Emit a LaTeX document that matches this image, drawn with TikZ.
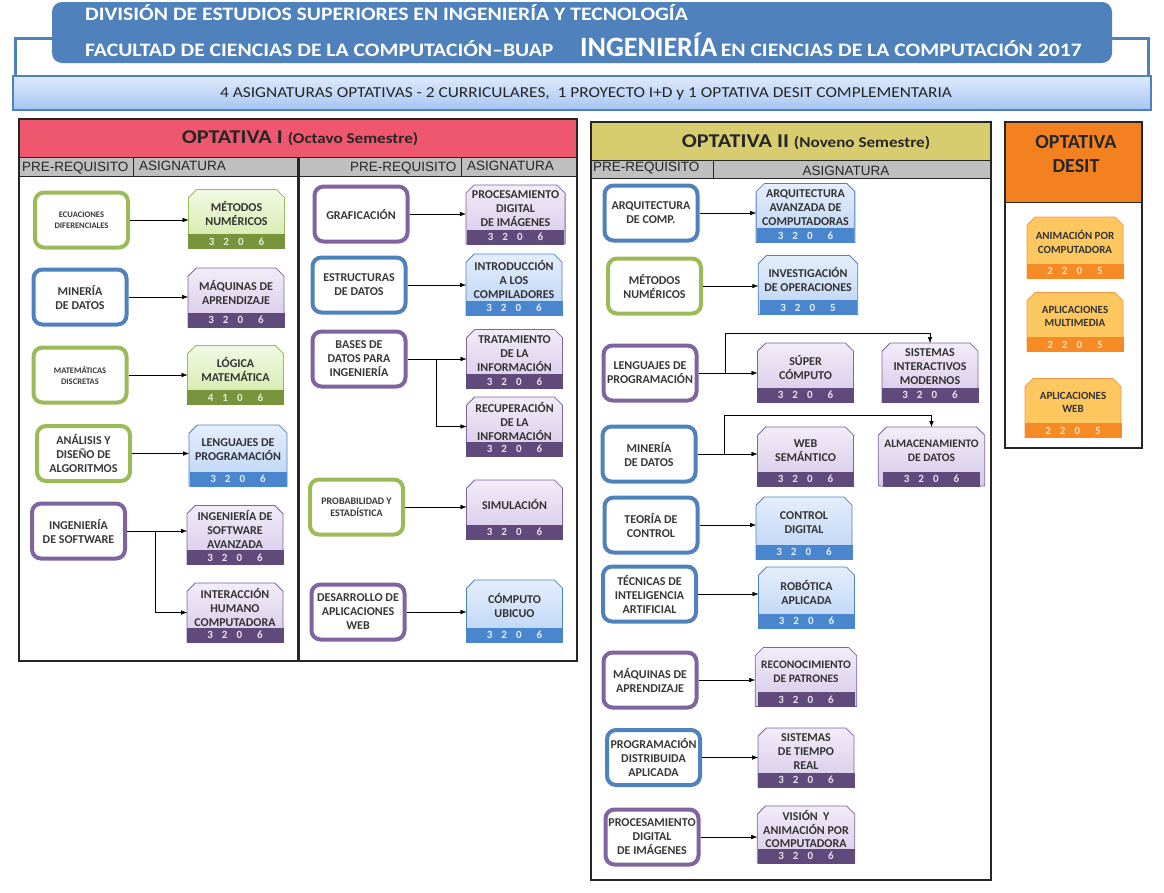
\documentclass[tikz,border=0pt]{standalone}
\usepackage{fontspec}
\setmainfont{Carlito}
\setsansfont{Liberation Sans}
\newfontfamily\widefont{Carlito}[FakeStretch=1.14]
\usetikzlibrary{shapes.misc,arrows.meta,positioning}

\definecolor{hdrblue}{RGB}{79,129,189}
\definecolor{bandtop}{RGB}{222,234,252}
\definecolor{bandbot}{RGB}{166,197,242}
\definecolor{redtitle}{RGB}{239,87,111}
\definecolor{yeltitle}{RGB}{216,205,110}
\definecolor{orgtitle}{RGB}{244,129,32}
\definecolor{hdrgray}{RGB}{191,191,191}
\definecolor{ogreen}{RGB}{155,187,89}
\definecolor{greenbar}{RGB}{119,147,60}
\definecolor{greentop}{RGB}{242,249,228}
\definecolor{greenbot}{RGB}{208,233,162}
\definecolor{oblue}{RGB}{79,129,189}
\definecolor{bluebar}{RGB}{74,134,206}
\definecolor{bluetop}{RGB}{228,238,252}
\definecolor{bluebot}{RGB}{186,211,246}
\definecolor{opurple}{RGB}{128,100,162}
\definecolor{purplebar}{RGB}{96,74,123}
\definecolor{purpletop}{RGB}{242,236,248}
\definecolor{purplebot}{RGB}{214,200,232}
\definecolor{oorange}{RGB}{247,150,70}
\definecolor{orangebar}{RGB}{246,138,36}
\definecolor{orangefill}{RGB}{255,199,95}

\newcommand{\cred}[4]{#1\hspace{9pt}#2\hspace{9pt}#3\hspace{15pt}#4}

\tikzset{
    prebox/.style={
        rectangle,
        rounded corners=9pt,
        line width=4pt,
        fill=white,
        align=center,
        minimum width=93pt,
        minimum height=55pt,
        inner sep=1pt,
        text=black!78,
        font=\fontsize{12}{14}\selectfont\bfseries
    },
    pregreen/.style={prebox, draw=ogreen},
    preblue/.style={prebox, draw=oblue},
    prepurple/.style={prebox, draw=opurple},
    subj/.style={
        chamfered rectangle,
        chamfered rectangle corners={north west,north east},
        chamfered rectangle xsep=5pt,
        line width=0.8pt,
        minimum width=96pt,
        minimum height=59pt,
        inner sep=1pt,
        outer sep=0pt,
        align=center,
        text depth=11pt,
        text=black!80,
        font=\fontsize{12}{14}\selectfont\bfseries
    },
    subgreen/.style={subj, draw=ogreen, top color=greentop, bottom color=greenbot},
    subblue/.style={subj, draw=oblue, top color=bluetop, bottom color=bluebot},
    subpurple/.style={subj, draw=opurple, top color=purpletop, bottom color=purplebot},
    suborange/.style={subj, draw=oorange, fill=orangefill,
        font=\fontsize{11}{13.5}\selectfont\bfseries},
    credbar/.style={
        rectangle,
        minimum width=96pt,
        minimum height=14pt,
        inner sep=0pt,
        outer sep=0pt,
        line width=0.8pt,
        font=\fontsize{11}{12}\selectfont\bfseries
    },
    bargreen/.style={credbar, fill=greenbar, draw=greenbar, text=ogreen!25},
    barblue/.style={credbar, fill=bluebar, draw=bluebar, text=white!85!bluebar},
    barpurple/.style={credbar, fill=purplebar, draw=purplebar, text=white!85!purplebar},
    barorange/.style={credbar, fill=orangebar, draw=orangebar, text=white!75!orangebar},
    colhead/.style={font=\sffamily\fontsize{13.5}{15}\selectfont, text=black!85, inner sep=1pt},
    ttl/.style={font=\widefont\fontsize{19.5}{24}\selectfont\bfseries, text=black!85, inner sep=0pt, align=center},
    hdrtext/.style={anchor=base west, text=white, inner sep=0pt, font=\widefont\fontsize{19}{22}\selectfont\bfseries},
    frame/.style={draw=black!85, line width=2pt}
}

\begin{document}
\begin{tikzpicture}[x=1pt, y=-1pt, >={Latex[length=6pt,width=4.5pt]}]
    \useasboundingbox (0,0) rectangle (1164,892);

    % header
    \draw[hdrblue, line width=3pt] (60,38) -- (15,38) -- (15,77);
    \draw[hdrblue, line width=3pt] (1100,38) -- (1148,38) -- (1148,77);
    \fill[hdrblue, rounded corners=10pt] (52,2) rectangle (1112,63);
    \draw[hdrblue, line width=1.5pt, top color=bandtop, bottom color=bandbot] (13,76) rectangle (1151,110);
    \node (hdr1) [hdrtext] at (85,20) {DIVISIÓN DE ESTUDIOS SUPERIORES EN INGENIERÍA Y TECNOLOGÍA};
    \node (hdr2) [hdrtext] at (85,56) {FACULTAD DE CIENCIAS DE LA COMPUTACIÓN–BUAP};
    \node (hdr3) [hdrtext, font=\fontsize{28}{30}\selectfont\bfseries] at (580,56) {INGENIERÍA};
    \node (hdr4) [hdrtext, xshift=3pt] at (hdr3.base east) {EN CIENCIAS DE LA COMPUTACIÓN 2017};
    \node (band) [text=black!85, font=\widefont\fontsize{15.2}{18}\selectfont] at (586,94) {4 ASIGNATURAS OPTATIVAS - 2 CURRICULARES,\ \ 1 PROYECTO I+D y 1 OPTATIVA DESIT COMPLEMENTARIA};

    % optativa I
    \fill[redtitle] (19,119) rectangle (577,157);
    \fill[hdrgray] (19,157) rectangle (577,176);
    \draw[black!85, line width=1pt] (19,157) -- (577,157) (19,176) -- (577,176);
    \draw[black!85, line width=1pt] (133,157) -- (133,176) (461,157) -- (461,176);
    \draw[black!85, line width=3pt] (298,157) -- (298,661);
    \draw[frame] (19,119) rectangle (577,661);
    \node (opt1) [ttl] at (300,138) {OPTATIVA I {\fontsize{15}{18}\selectfont(Octavo Semestre)}};
    \node (h1p) [colhead, anchor=west] at (21,168) {PRE-REQUISITO};
    \node (h1a) [colhead, anchor=west] at (138,166) {ASIGNATURA};
    \node (h2p) [colhead, anchor=west] at (349,168) {PRE-REQUISITO};
    \node (h2a) [colhead, anchor=west] at (466,166) {ASIGNATURA};

    % optativa II
    \fill[yeltitle] (591,122) rectangle (991,160);
    \fill[hdrgray] (591,160) rectangle (991,178);
    \draw[black!85, line width=1pt] (591,160) -- (991,160) (591,178) -- (991,178) (713,160) -- (713,178);
    \draw[frame] (591,122) rectangle (991,880);
    \node (opt2) [ttl] at (806,142) {OPTATIVA II {\fontsize{15}{18}\selectfont(Noveno Semestre)}};
    \node (h3p) [colhead, anchor=west] at (592,168) {PRE-REQUISITO};
    \node (h3a) [colhead] at (846,171) {ASIGNATURA};

    % optativa desit
    \fill[orgtitle] (1005,122) rectangle (1142,202);
    \draw[black!85, line width=1pt] (1005,202) -- (1142,202);
    \draw[frame] (1005,122) rectangle (1142,448);
    \node (opt3) [ttl, font=\fontsize{20}{24}\selectfont\bfseries] at (1076,154) {OPTATIVA\\DESIT};

    % prerequisitos optativa I
    \node (pa1) [pregreen, font=\fontsize{8.5}{11}\selectfont\bfseries] at (81.5,220) {ECUACIONES\\DIFERENCIALES};
    \node (pa2) [preblue] at (80,297) {MINERÍA\\DE DATOS};
    \node (pa3) [pregreen, font=\fontsize{8.5}{11}\selectfont\bfseries] at (80,375) {MATEMÁTICAS\\DISCRETAS};
    \node (pa4) [pregreen] at (83.5,453.5) {ANÁLISIS Y\\DISEÑO DE\\ALGORITMOS};
    \node (pa5) [prepurple] at (78.5,531) {INGENIERÍA\\DE SOFTWARE};
    \node (pb1) [prepurple] at (361,214) {GRAFICACIÓN};
    \node (pb2) [preblue] at (359,285) {ESTRUCTURAS\\DE DATOS};
    \node (pb3) [prepurple] at (359,359) {BASES DE\\DATOS PARA\\INGENIERÍA};
    \node (pb4) [pregreen, font=\fontsize{10}{12}\selectfont\bfseries] at (356.5,507) {PROBABILIDAD Y\\ESTADÍSTICA};
    \node (pb5) [prepurple] at (358,612) {DESARROLLO DE\\APLICACIONES\\WEB};

    % asignaturas optativa I
    \node (sa1) [subgreen] at (236.5,219) {MÉTODOS\\NUMÉRICOS};
    \node (sa1c) [bargreen, above=0pt of sa1.south] {\cred3206};
    \node (sa2) [subpurple] at (236,297.5) {MÁQUINAS DE\\APRENDIZAJE};
    \node (sa2c) [barpurple, above=0pt of sa2.south] {\cred3206};
    \node (sa3) [subgreen] at (235.5,375) {LÓGICA\\MATEMÁTICA};
    \node (sa3c) [bargreen, above=0pt of sa3.south] {\cred4106};
    \node (sa4) [subblue, minimum height=61pt] at (238,455.5) {LENGUAJES DE\\PROGRAMACIÓN};
    \node (sa4c) [barblue, above=0pt of sa4.south] {\cred3206};
    \node (sa5) [subpurple] at (235,535) {INGENIERÍA DE\\SOFTWARE\\AVANZADA};
    \node (sa5c) [barpurple, above=0pt of sa5.south] {\cred3206};
    \node (sa6) [subpurple] at (235,612.5) {INTERACCIÓN\\HUMANO\\COMPUTADORA};
    \node (sa6c) [barpurple, above=0pt of sa6.south] {\cred3206};
    \node (sb1) [subpurple] at (515.5,214.5) {PROCESAMIENTO\\DIGITAL\\DE IMÁGENES};
    \node (sb1c) [barpurple, above=0pt of sb1.south] {\cred3206};
    \node (sb2) [subblue, minimum height=61pt] at (514,284.5) {INTRODUCCIÓN\\A LOS\\COMPILADORES};
    \node (sb2c) [barblue, above=0pt of sb2.south] {\cred3206};
    \node (sb3) [subpurple] at (514.5,359) {TRATAMIENTO\\DE LA\\INFORMACIÓN};
    \node (sb3c) [barpurple, above=0pt of sb3.south] {\cred3206};
    \node (sb4) [subpurple] at (514.5,426.5) {RECUPERACIÓN\\DE LA\\INFORMACIÓN};
    \node (sb4c) [barpurple, above=0pt of sb4.south] {\cred3206};
    \node (sb5) [subpurple] at (514.5,509.5) {SIMULACIÓN};
    \node (sb5c) [barpurple, above=0pt of sb5.south] {\cred3206};
    \node (sb6) [subblue, minimum height=62pt] at (514.5,611) {CÓMPUTO\\UBICUO};
    \node (sb6c) [barblue, above=0pt of sb6.south] {\cred3206};

    \draw [->] (pa1) -- (pa1 -| sa1.west);
    \draw [->] (pa2) -- (pa2 -| sa2.west);
    \draw [->] (pa3) -- (pa3 -| sa3.west);
    \draw [->] (pa4) -- (pa4 -| sa4.west);
    \draw [->] (pa5) -- (pa5 -| sa5.west);
    \draw [->] ([xshift=28pt]pa5.east) |- (sa6);
    \draw [->] (pb1) -- (pb1 -| sb1.west);
    \draw [->] (pb2) -- (pb2 -| sb2.west);
    \draw [->] (pb3) -- (pb3 -| sb3.west);
    \draw [->] ([xshift=29pt]pb3.east) |- (sb4);
    \draw [->] (pb4) -- (pb4 -| sb5.west);
    \draw [->] (pb5) -- (pb5 -| sb6.west);

    % prerequisitos optativa II
    \node (pc1) [preblue] at (651,213) {ARQUITECTURA\\DE COMP.};
    \node (pc2) [pregreen] at (654.5,286) {MÉTODOS\\NUMÉRICOS};
    \node (pc3) [prepurple] at (650,373) {LENGUAJES DE\\PROGRAMACIÓN};
    \node (pc4) [preblue] at (649,454) {MINERÍA\\DE DATOS};
    \node (pc5) [preblue] at (651,525) {TEORÍA DE\\CONTROL};
    \node (pc6) [preblue] at (649.5,594) {TÉCNICAS DE\\INTELIGENCIA\\ARTIFICIAL};
    \node (pc7) [prepurple] at (650,680) {MÁQUINAS DE\\APRENDIZAJE};
    \node (pc8) [preblue] at (653.5,757.5) {PROGRAMACIÓN\\DISTRIBUIDA\\APLICADA};
    \node (pc9) [prepurple] at (652,837) {PROCESAMIENTO\\DIGITAL\\DE IMÁGENES};

    % asignaturas optativa II
    \node (sc1) [subblue] at (805.5,213) {ARQUITECTURA\\AVANZADA DE\\COMPUTADORAS};
    \node (sc1c) [barblue, above=0pt of sc1.south] {\cred3206};
    \node (sc2) [subblue] at (808,285) {INVESTIGACIÓN\\DE OPERACIONES};
    \node (sc2c) [barblue, above=0pt of sc2.south] {\cred3205};
    \node (sc3) [subpurple] at (805.5,372.5) {SÚPER\\CÓMPUTO};
    \node (sc3c) [barpurple, above=0pt of sc3.south] {\cred3206};
    \node (sc4) [subpurple] at (930,372.5) {SISTEMAS\\INTERACTIVOS\\MODERNOS};
    \node (sc4c) [barpurple, above=0pt of sc4.south] {\cred3206};
    \node (sc5) [subpurple] at (805.5,456.5) {WEB\\SEMÁNTICO};
    \node (sc5c) [barpurple, above=0pt of sc5.south] {\cred3206};
    \node (sc6) [subpurple, font=\fontsize{11.5}{14}\selectfont\bfseries] at (931.5,456.5) {ALMACENAMIENTO\\DE DATOS};
    \node (sc6c) [barpurple, above=0pt of sc6.south] {\cred3206};
    \node (sc7) [subblue, minimum height=62pt] at (804,528) {CONTROL\\DIGITAL};
    \node (sc7c) [barblue, above=0pt of sc7.south] {\cred3206};
    \node (sc8) [subblue, minimum height=61pt] at (806.5,597.5) {ROBÓTICA\\APLICADA};
    \node (sc8c) [barblue, above=0pt of sc8.south] {\cred3206};
    \node (sc9) [subpurple, font=\fontsize{11.5}{14}\selectfont\bfseries] at (806,677) {RECONOCIMIENTO\\DE PATRONES};
    \node (sc9c) [barpurple, above=0pt of sc9.south] {\cred3206};
    \node (sc10) [subpurple] at (806,757.5) {SISTEMAS\\DE TIEMPO\\REAL};
    \node (sc10c) [barpurple, above=0pt of sc10.south] {\cred3206};
    \node (sc11) [subpurple, minimum height=57pt, font=\fontsize{12}{13.5}\selectfont\bfseries] at (806,834.5) {VISIÓN\ \ Y\\ANIMACIÓN POR\\COMPUTADORA};
    \node (sc11c) [barpurple, above=0pt of sc11.south] {\cred3206};

    \draw [->] (pc1) -- (pc1 -| sc1.west);
    \draw [->] (pc2) -- (pc2 -| sc2.west);
    \draw [->] (pc3) -- (pc3 -| sc3.west);
    \draw [->] ([xshift=27pt]pc3.east) |- ([yshift=10pt]sc4.north) -- (sc4.north);
    \draw [->] (pc4) -- (pc4 -| sc5.west);
    \draw [->] ([xshift=27pt]pc4.east) |- ([yshift=12pt]sc6.north) -- (sc6.north);
    \draw [->] (pc5) -- (pc5 -| sc7.west);
    \draw [->] (pc6) -- (pc6 -| sc8.west);
    \draw [->] (pc7) -- (pc7 -| sc9.west);
    \draw [->] (pc8) -- (pc8 -| sc10.west);
    \draw [->] (pc9) -- (pc9 -| sc11.west);

    % asignaturas desit
    \node (sd1) [suborange, minimum height=61pt] at (1075,247.5) {ANIMACIÓN POR\\COMPUTADORA};
    \node (sd1c) [barorange, above=0pt of sd1.south] {\cred2205};
    \node (sd2) [suborange] at (1075,322) {APLICACIONES\\MULTIMEDIA};
    \node (sd2c) [barorange, above=0pt of sd2.south] {\cred2205};
    \node (sd3) [suborange] at (1073,408) {APLICACIONES\\WEB};
    \node (sd3c) [barorange, above=0pt of sd3.south] {\cred2205};
\end{tikzpicture}
\end{document}
